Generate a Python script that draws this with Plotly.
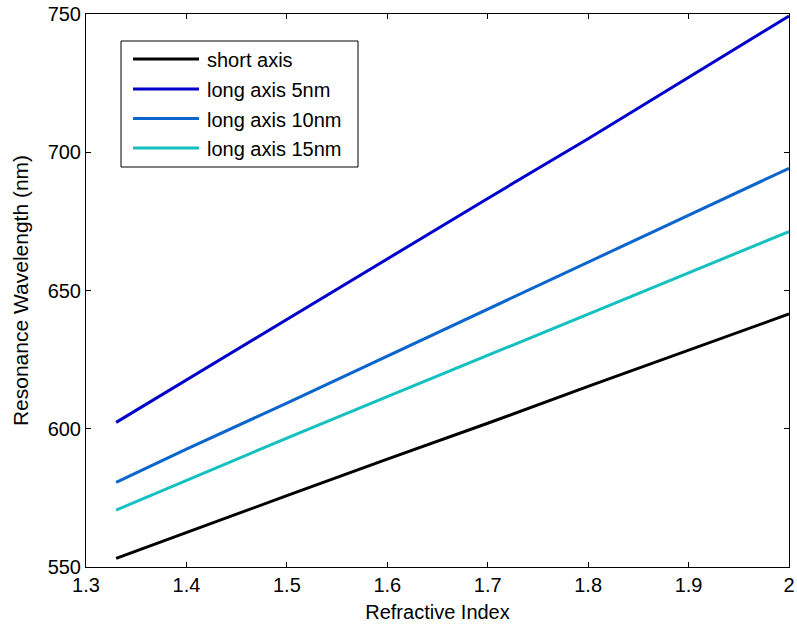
import plotly.graph_objects as go

refractive_index = [1.33, 1.40, 1.50, 1.60, 1.70, 1.80, 1.90, 2.00]
short_axis = [553.1, 562.5, 575.8, 589.0, 602.0, 615.3, 628.5, 641.5]
long_axis_5nm = [602.3, 617.6, 639.7, 661.6, 683.3, 704.9, 727.1, 749.3]
long_axis_10nm = [580.6, 592.6, 609.3, 626.3, 643.3, 660.3, 677.4, 694.2]
long_axis_15nm = [570.6, 581.4, 596.6, 611.6, 626.6, 641.5, 656.4, 671.3]

series_names = ["short axis", "long axis 5nm", "long axis 10nm", "long axis 15nm"]
series_values = [short_axis, long_axis_5nm, long_axis_10nm, long_axis_15nm]
series_colors = ["#000000", "#0000CC", "#0A66CC", "#14C0C0"]

x_ticks = [1.3, 1.4, 1.5, 1.6, 1.7, 1.8, 1.9, 2.0]
x_tick_labels = ["1.3", "1.4", "1.5", "1.6", "1.7", "1.8", "1.9", "2"]
y_ticks = [550, 600, 650, 700, 750]

FONT = "Liberation Sans, Arial, sans-serif"

fig = go.Figure()
for name, vals, col in zip(series_names, series_values, series_colors):
    fig.add_trace(go.Scatter(x=refractive_index, y=vals, mode="lines", name=name,
                             line=dict(color=col, width=3), showlegend=False))

W, H = 797, 630
ml, mr, mt, mb = 86, 8, 14, 63
pw, ph = W - ml - mr, H - mt - mb

def px(x):
    return (x - ml) / pw

def py(y):
    return (H - mb - y) / ph

shapes = [dict(type="rect", xref="paper", yref="paper",
               x0=px(121), x1=px(358), y0=py(167), y1=py(41),
               line=dict(color="black", width=1), fillcolor="white", layer="above")]
annotations = []
legend_y = [59, 89, 118.5, 148]
for name, col, ly in zip(series_names, series_colors, legend_y):
    shapes.append(dict(type="line", xref="paper", yref="paper",
                       x0=px(133), x1=px(199), y0=py(ly), y1=py(ly),
                       line=dict(color=col, width=3), layer="above"))
    annotations.append(dict(xref="paper", yref="paper", x=px(205), y=py(ly + 1),
                            text=name, showarrow=False, xanchor="left", yanchor="middle",
                            font=dict(family=FONT, size=20, color="black")))

fig.update_layout(
    width=W, height=H,
    margin=dict(l=ml, r=mr, t=mt, b=mb, autoexpand=False),
    paper_bgcolor="white", plot_bgcolor="white",
    font=dict(family=FONT, size=20, color="black"),
    shapes=shapes, annotations=annotations,
    showlegend=False,
)
fig.update_xaxes(range=[1.3, 2.0], tickvals=x_ticks, ticktext=x_tick_labels,
                 ticks="inside", ticklen=5, tickwidth=1, tickcolor="black",
                 showline=True, linecolor="black", linewidth=1, mirror="ticks",
                 showgrid=False, zeroline=False,
                 tickfont=dict(family=FONT, size=20),
                 title=dict(text="Refractive Index", font=dict(family=FONT, size=20), standoff=9),
                 automargin=False)
fig.update_yaxes(range=[550, 750], tickvals=y_ticks,
                 ticks="inside", ticklen=5, tickwidth=1, tickcolor="black",
                 showline=True, linecolor="black", linewidth=1, mirror="ticks",
                 showgrid=False, zeroline=False,
                 tickfont=dict(family=FONT, size=20),
                 title=dict(text="Resonance Wavelength (nm)", font=dict(family=FONT, size=21), standoff=13),
                 automargin=False)

fig.write_html("out.html")
